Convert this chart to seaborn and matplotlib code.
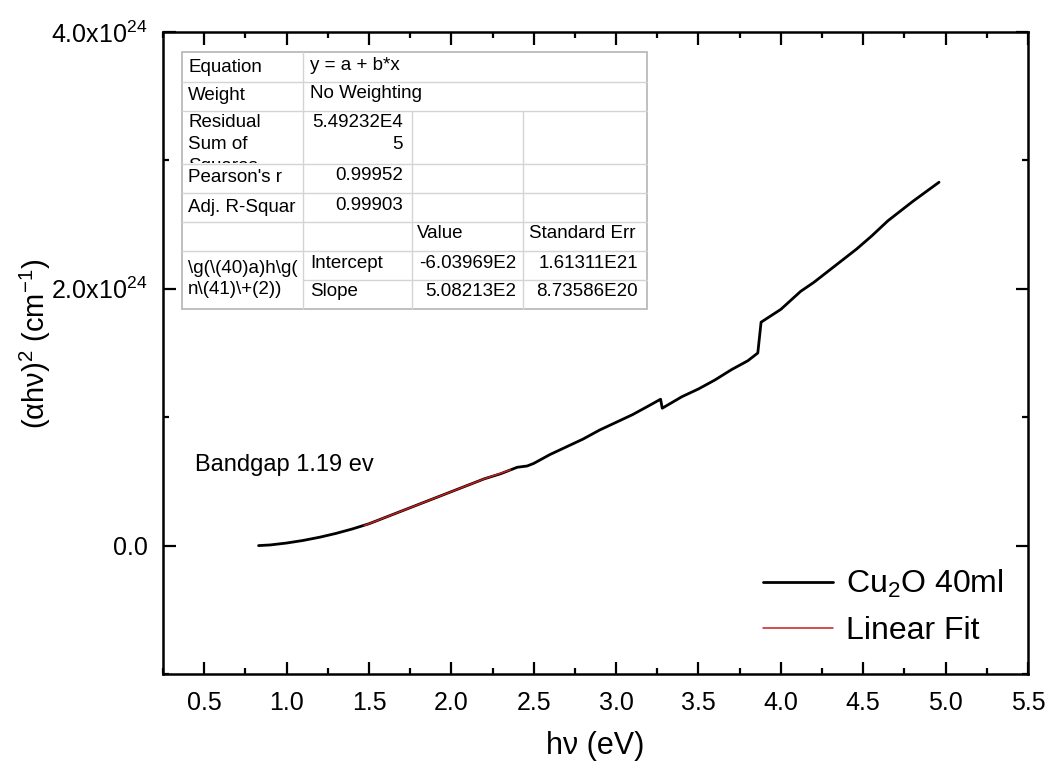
import numpy as np
import pandas as pd
import matplotlib
matplotlib.use("Agg")
import matplotlib.pyplot as plt
import matplotlib.transforms as mtransforms
from matplotlib.lines import Line2D
from matplotlib.ticker import MultipleLocator, FuncFormatter
import seaborn as sns

# Dados (hv em eV, (alpha*h*nu)^2 em unidades de 1e24)
hv = [0.83, 0.90, 1.00, 1.10, 1.20, 1.30, 1.40, 1.50, 1.60, 1.70, 1.80, 1.90,
      2.00, 2.10, 2.20, 2.30, 2.40, 2.46, 2.50, 2.60, 2.70, 2.80, 2.90, 3.00,
      3.10, 3.20, 3.27, 3.28, 3.40, 3.50, 3.60, 3.70, 3.80, 3.86, 3.88, 4.00,
      4.12, 4.20, 4.30, 4.46, 4.55, 4.65, 4.80, 4.96]
alpha_hv2 = [0.0, 0.005, 0.02, 0.04, 0.065, 0.095, 0.13, 0.17, 0.22, 0.27, 0.32, 0.37,
             0.42, 0.47, 0.52, 0.56, 0.61, 0.62, 0.64, 0.71, 0.77, 0.83, 0.90, 0.96,
             1.02, 1.09, 1.14, 1.07, 1.16, 1.22, 1.29, 1.37, 1.44, 1.50, 1.74, 1.84,
             1.98, 2.05, 2.15, 2.31, 2.41, 2.53, 2.68, 2.83]

# Ajuste linear (região usada para o bandgap)
fit_hv = [1.47, 1.60, 1.80, 2.00, 2.20, 2.36]
fit_y = [0.155, 0.22, 0.32, 0.42, 0.52, 0.59]

scale = 1e24
df = pd.DataFrame({"hv": hv, "y": np.array(alpha_hv2) * scale})
df_fit = pd.DataFrame({"hv": fit_hv, "y": np.array(fit_y) * scale})

# Tabela do ajuste (estilo Origin)
table_rows = [
    ("Equation", "y = a + b*x"),
    ("Weight", "No Weighting"),
    ("Residual\nSum of\nSquares", "5.49232E4\n5"),
    ("Pearson's r", "0.99952"),
    ("Adj. R-Squar", "0.99903"),
]
param_header = ["Value", "Standard Err"]
param_label = "\\g(\\(40)a)h\\g(\nn\\(41)\\+(2))"
param_names = ["Intercept", "Slope"]
param_values = ["-6.03969E2", "5.08213E2"]
param_errors = ["1.61311E21", "8.73586E20"]

sns.set_style("ticks")
plt.rcParams["font.family"] = ["Liberation Sans", "DejaVu Sans"]
plt.rcParams["mathtext.fontset"] = "custom"
plt.rcParams["mathtext.rm"] = "Liberation Sans"
plt.rcParams["mathtext.it"] = "Liberation Sans:italic"
plt.rcParams["mathtext.default"] = "regular"
for k in ["text.color", "axes.labelcolor", "xtick.color", "ytick.color", "axes.edgecolor"]:
    plt.rcParams[k] = "black"

fig = plt.figure(figsize=(10.5, 7.71), dpi=100)
ax = fig.add_axes([163 / 1050, 1 - 674 / 771, 865 / 1050, 642 / 771])

sns.lineplot(data=df, x="hv", y="y", ax=ax, color="black", lw=2.0,
             sort=False, estimator=None, label="Cu$_2$O 40ml")
sns.lineplot(data=df_fit, x="hv", y="y", ax=ax, color="#c81e1e", lw=1.1,
             sort=False, estimator=None, label="Linear Fit")

ax.set_xlim(0.25, 5.5)
ax.set_ylim(-1.0e24, 4.0e24)
ax.xaxis.set_major_locator(MultipleLocator(0.5))
ax.xaxis.set_minor_locator(MultipleLocator(0.25))
ax.yaxis.set_major_locator(MultipleLocator(2e24))
ax.yaxis.set_minor_locator(MultipleLocator(1e24))


def ytick_fmt(v, pos):
    if abs(v) < 1:
        return "0.0"
    return f"{v / 1e24:.1f}x10$^{{24}}$"


ax.yaxis.set_major_formatter(FuncFormatter(ytick_fmt))
ax.tick_params(which="both", direction="in", top=True, right=True, width=1.6, color="black")
ax.tick_params(which="major", length=9)
ax.tick_params(which="minor", length=4.5)
ax.tick_params(axis="x", which="major", labelsize=18, pad=12)
ax.tick_params(axis="y", which="major", labelsize=18, pad=11)
for s in ax.spines.values():
    s.set_linewidth(1.8)
    s.set_color("black")
    s.set_visible(True)

ax.set_xlabel("hν (eV)", fontsize=22)
ax.set_ylabel("(αhν)$^{2}$ (cm$^{-1}$)", fontsize=21)
ax.xaxis.set_label_coords(0.5, -0.112)
ax.yaxis.set_label_coords((35 - 163) / 865, 0.515)
ax.xaxis.label.set_va("center")
ax.yaxis.label.set_va("center")

ax.text(0.445, 0.63e24, "Bandgap 1.19 ev", fontsize=17, va="center", ha="left")

leg = ax.legend(loc="lower right", bbox_to_anchor=(0.972, 0.043), frameon=False,
                fontsize=23, handlelength=2.2, handletextpad=0.4,
                labelspacing=0.5, borderpad=0, borderaxespad=0)

# --- tabela em coordenadas de pixel (origem no topo) ---
px = mtransforms.Affine2D().scale(1 / 1050, -1 / 771).translate(0, 1) + fig.transFigure
row_edges = [51.7, 81.7, 111, 164, 193, 222, 251, 280, 309]
col_edges = [182, 303, 412, 523, 647]
grid_c = "#d4d4d4"
tfs = 13.5

bg = plt.Rectangle((col_edges[0], row_edges[0]), col_edges[-1] - col_edges[0],
                   row_edges[-1] - row_edges[0], transform=px, facecolor="white",
                   edgecolor="#b4b4b4", lw=1.2, zorder=5, clip_on=False)
ax.add_artist(bg)


def tline(xs, ys):
    ax.add_artist(Line2D(xs, ys, transform=px, color=grid_c, lw=1.0, zorder=6, clip_on=False))


for i, yy in enumerate(row_edges[1:-1], start=1):
    x0 = col_edges[1] if i == 7 else col_edges[0]
    tline([x0, col_edges[-1]], [yy, yy])
tline([col_edges[1]] * 2, [row_edges[0], row_edges[-1]])
tline([col_edges[2]] * 2, [row_edges[2], row_edges[-1]])
tline([col_edges[3]] * 2, [row_edges[2], row_edges[-1]])


def ttext(x, y, s, ha="left", va="center", **kw):
    return ax.text(x, y, s, transform=px, ha=ha, va=va, fontsize=tfs, zorder=7,
                   clip_on=False, **kw)


lx = col_edges[0] + 6
vx = col_edges[1] + 7
rx = col_edges[2] - 9
ttext(lx, 67, table_rows[0][0])
ttext(vx, 65, table_rows[0][1])
ttext(lx, 96, table_rows[1][0])
ttext(vx, 94, table_rows[1][1])
t = ttext(lx, 114, table_rows[2][0], va="top", linespacing=1.38)
cell_clip = plt.Rectangle((col_edges[0], row_edges[2]), col_edges[1] - col_edges[0],
                          row_edges[3] - row_edges[2] - 1, transform=px)
t.set_clip_on(True)
t.set_clip_path(cell_clip)
ttext(rx, 114, table_rows[2][1], ha="right", va="top", linespacing=1.38)
ttext(lx, 178, table_rows[3][0])
ttext(rx, 176, table_rows[3][1], ha="right")
ttext(lx, 207, table_rows[4][0])
ttext(rx, 205, table_rows[4][1], ha="right")
ttext(col_edges[2] + 5, 234, param_header[0])
ttext(col_edges[3] + 6, 234, param_header[1])
ttext(lx, 279, param_label, linespacing=1.35)
for k, yy in enumerate([263, 291]):
    ttext(vx, yy, param_names[k])
    ttext(col_edges[3] - 7, yy, param_values[k], ha="right")
    ttext(col_edges[4] - 9, yy, param_errors[k], ha="right")

plt.savefig("out.png", dpi=100)
plt.close()
